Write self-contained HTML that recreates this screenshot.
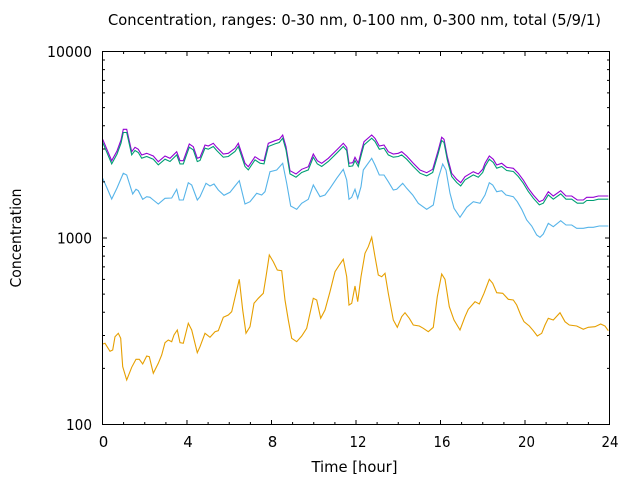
<!DOCTYPE html>
<html><head><meta charset="utf-8"><style>
html,body{margin:0;padding:0;background:#fff;}
svg{display:block;}
text{font-family:"DejaVu Sans","Liberation Sans",sans-serif;fill:#000;}
</style></head><body>
<svg width="640" height="480" viewBox="0 0 640 480" xmlns="http://www.w3.org/2000/svg">
<rect width="640" height="480" fill="#fff"/>
<defs>
<polyline id="pp" fill="none" points="102.7,139.3 111.7,160.7 117,151 121,140 123.3,129.3 126.7,129.3 131.7,151.7 135,147.3 138.3,149.3 141.7,155 146.7,153.3 153.3,156 158.3,161.7 165,156 170,158.3 176.7,151.7 180,160.7 183.3,160.7 189.3,144 193.3,146.7 197.3,158.3 200,157.3 205,145 208.3,146 213.3,143.3 216.7,147.3 223.3,154 228.3,153.3 235,148.3 238.3,143.3 245,163.3 248.3,166.7 255,156.7 260,160 264,160.7 268.3,143.3 275,140.7 279.3,139.3 282.7,135 286,146.7 290,170.7 296,174 301.7,169.3 308.3,166.7 313.3,154 317.3,160.7 321.7,163.3 328.3,158.3 336.7,150 343.3,143.3 346.7,147.3 349,163.3 352.7,162.7 355,157.3 358.3,163.3 361.7,150 364,141.7 371.7,135 375,138.3 379.3,146 384,145 388.3,151.7 393.3,154 398.3,153.3 401.7,151.7 406.7,156 413.3,163.3 420,170 426.7,172.7 432.7,169.3 438.3,150 441.7,137.3 444,139.3 447.3,156.7 451.7,173.3 456.7,179.3 460.7,182.7 465,176.7 473.3,171.7 478.3,174 482.7,169.3 485,163.3 489.3,156 493.3,159.3 496.7,165 501.7,163.3 506.7,167.3 513.3,168.3 518.3,173.3 523.3,180 528.3,188.3 533.3,195 539.3,201.7 543.3,200 548.3,191.7 553.3,196 560.7,190.7 566,196 571.7,196 577.3,200 583.3,200 586.7,197.3 593.3,197.3 598.3,196 608.3,196"/>
</defs>
<!-- series -->
<use href="#pp" stroke="#9400d3" stroke-width="1.1"/>
<use href="#pp" stroke="#009e73" stroke-width="1.1" transform="translate(0,3.2)"/>
<polyline fill="none" stroke="#56b4e9" stroke-width="1.1" points="102.7,178.3 107,188 111.7,199 117,188 123.3,173.3 126.7,175 132.7,194 136,189.3 138.3,190.7 142.7,199.3 146.7,196.7 150,197.3 153.3,200 158.3,204 165,198.3 171.7,198 176.7,189.3 179.3,200 183.3,200 188.3,182.7 191.7,185 197.3,200 200,196.7 206,183.3 210,186 214,184 218.3,190 224,195.3 230,192.3 235,186 239.3,180.7 245,204 250,201.7 256.7,193.3 261.7,195 265,191.7 270,171.7 276.7,170 282.7,163.3 286.7,183.3 290.7,206 296.7,209.3 301.7,203.3 308.3,199.3 313.3,185 320,196.7 325,195 330,188.3 336.7,178.3 343.3,169.3 346.7,180 349,199.3 351.7,197.3 355,189.3 357.7,198.3 361,186.7 363.3,170 371.7,158.3 375,165 379.3,175 384,175 388.3,181.7 393.3,190 396.7,189.3 402.7,183.3 406.7,188.3 412.7,195 418.3,203.3 426.7,209.3 433.3,205 438.3,178.3 442.7,164 446,170 450,193.3 454,208.3 460,217.3 466.7,207.3 473.3,201.7 480,203.3 485,195 489.3,182.7 492.7,185 496.7,191.7 501.7,190.7 506,195 513.3,196.7 517.3,201.7 521.7,209.3 526.7,220 531.7,226 536.7,235 540,237.3 543.3,234 548.3,223.3 553.3,226.7 560.7,220.7 566,225 571.7,225 576.7,228.3 583.3,228.3 588.3,227.3 593.3,227.3 599.3,226 608.3,226"/>
<polyline fill="none" stroke="#e69f00" stroke-width="1.1" points="102.7,344 105,343.3 110,351.3 112.7,350 115,336.7 118.3,333.3 120.7,338.3 122.7,366.7 126.7,380 131.7,367.3 136,359.3 139.3,359.3 142.7,364 146.7,356 149.3,356.7 153.3,373.3 158.3,363.3 161.7,355 165,342.7 168.3,340 171.7,341.7 174,335 177.3,330 180,342.7 183.3,343.3 188.3,323.3 191.7,330 197.3,352.7 200,346.7 205,333.3 210,337.3 215,331.7 218.3,330.7 223.3,317.3 228.3,315 231.7,311.7 235,297.5 239.3,279.3 242.7,310 246,333.3 250,326.7 254,303.3 258.3,298.3 263.3,293.3 266,276.7 269.3,255 273.3,261.7 277.3,270 281.7,270.7 285,300 288.3,320 291.7,338.3 296.7,341.7 301.7,336 306.7,328.3 310,313.3 313.3,298.3 316.7,300 320.7,318.3 325,310 330,291.7 335,271.7 339.3,265 343.3,259.3 346.7,276.7 349,305 351.7,303.3 355,286 357.7,301.7 361,276.7 365,253.3 368.3,246.7 371.7,237.3 375,256.7 378.3,275 381.7,276.7 385,273.3 388.3,293.3 393.3,320 397.3,327.3 401.7,316.7 405,312.7 409.3,318.3 413.3,325 419.3,326 423.3,328.3 428.3,331.7 433.3,327.3 437.3,296.7 441.7,274 445,279.3 449.3,306.7 454,320 460,330 465,316.7 468.3,309.3 475,301.7 479.3,304 484,293.3 489.3,279.3 492.7,283.3 496.7,292.7 502.7,293.3 508.3,299.3 513.3,300 516.7,305 520.7,315 524,321.7 529.3,326 533.3,330.7 537.3,336 541.7,333.3 545,325 548.3,318.3 553.3,320 560,312.7 565,321.7 569.3,325 576.7,326 583.3,329.3 588.3,327.3 595,326.7 600.7,324 605,326 608.3,330.7"/>
<!-- border -->
<rect x="102.5" y="51.5" width="507" height="373" fill="none" stroke="#000" stroke-width="1"/>
<!-- ticks -->
<g stroke="#000" stroke-width="1">
<path d="M102.5,424.5v-4.5M186.98,424.5v-4.5M271.5,424.5v-4.5M356,424.5v-4.5M440.5,424.5v-4.5M525,424.5v-4.5M609.5,424.5v-4.5
M102.5,51.5v4.5M186.98,51.5v4.5M271.5,51.5v4.5M356,51.5v4.5M440.5,51.5v4.5M525,51.5v4.5M609.5,51.5v4.5"/>
<path d="M123.6,424.5v-2.5M144.75,424.5v-2.5M165.9,424.5v-2.5M208.1,424.5v-2.5M229.25,424.5v-2.5M250.4,424.5v-2.5M292.6,424.5v-2.5M313.75,424.5v-2.5M334.9,424.5v-2.5M377.1,424.5v-2.5M398.25,424.5v-2.5M419.4,424.5v-2.5M461.6,424.5v-2.5M482.75,424.5v-2.5M503.9,424.5v-2.5M546.1,424.5v-2.5M567.25,424.5v-2.5M588.4,424.5v-2.5
M123.6,51.5v2.5M144.75,51.5v2.5M165.9,51.5v2.5M208.1,51.5v2.5M229.25,51.5v2.5M250.4,51.5v2.5M292.6,51.5v2.5M313.75,51.5v2.5M334.9,51.5v2.5M377.1,51.5v2.5M398.25,51.5v2.5M419.4,51.5v2.5M461.6,51.5v2.5M482.75,51.5v2.5M503.9,51.5v2.5M546.1,51.5v2.5M567.25,51.5v2.5M588.4,51.5v2.5"/>
<path d="M102.5,51.5h4.5M102.5,238h4.5M102.5,424.5h4.5M609.5,51.5h-4.5M609.5,238h-4.5M609.5,424.5h-4.5"/>
<path d="M102.5,368.4h2.5M102.5,335.5h2.5M102.5,312.2h2.5M102.5,294.1h2.5M102.5,279.4h2.5M102.5,266.9h2.5M102.5,256.1h2.5M102.5,246.5h2.5
M102.5,181.9h2.5M102.5,149h2.5M102.5,125.7h2.5M102.5,107.6h2.5M102.5,92.9h2.5M102.5,80.4h2.5M102.5,69.6h2.5M102.5,60h2.5
M609.5,368.4h-2.5M609.5,335.5h-2.5M609.5,312.2h-2.5M609.5,294.1h-2.5M609.5,279.4h-2.5M609.5,266.9h-2.5M609.5,256.1h-2.5M609.5,246.5h-2.5
M609.5,181.9h-2.5M609.5,149h-2.5M609.5,125.7h-2.5M609.5,107.6h-2.5M609.5,92.9h-2.5M609.5,80.4h-2.5M609.5,69.6h-2.5M609.5,60h-2.5"/>
</g>
<!-- labels -->
<g font-size="15">
<text x="92" y="57" text-anchor="end" textLength="45" lengthAdjust="spacingAndGlyphs">10000</text>
<text x="92" y="243.5" text-anchor="end" textLength="35" lengthAdjust="spacingAndGlyphs">1000</text>
<text x="92" y="430" text-anchor="end" textLength="26" lengthAdjust="spacingAndGlyphs">100</text>
<text x="103.5" y="447" text-anchor="middle">0</text>
<text x="188" y="447" text-anchor="middle">4</text>
<text x="272.5" y="447" text-anchor="middle">8</text>
<text x="358" y="447" text-anchor="middle" textLength="17" lengthAdjust="spacingAndGlyphs">12</text>
<text x="442" y="447" text-anchor="middle" textLength="17" lengthAdjust="spacingAndGlyphs">16</text>
<text x="526.5" y="447" text-anchor="middle" textLength="17" lengthAdjust="spacingAndGlyphs">20</text>
<text x="610" y="447" text-anchor="middle" textLength="17" lengthAdjust="spacingAndGlyphs">24</text>
<text x="354.5" y="472" text-anchor="middle" textLength="86" lengthAdjust="spacingAndGlyphs">Time [hour]</text>
<text x="354.5" y="25" text-anchor="middle" textLength="493" lengthAdjust="spacingAndGlyphs">Concentration, ranges: 0-30 nm, 0-100 nm, 0-300 nm, total (5/9/1)</text>
<text transform="translate(21,238) rotate(-90)" text-anchor="middle" textLength="99" lengthAdjust="spacingAndGlyphs">Concentration</text>
</g>
</svg>
</body></html>
